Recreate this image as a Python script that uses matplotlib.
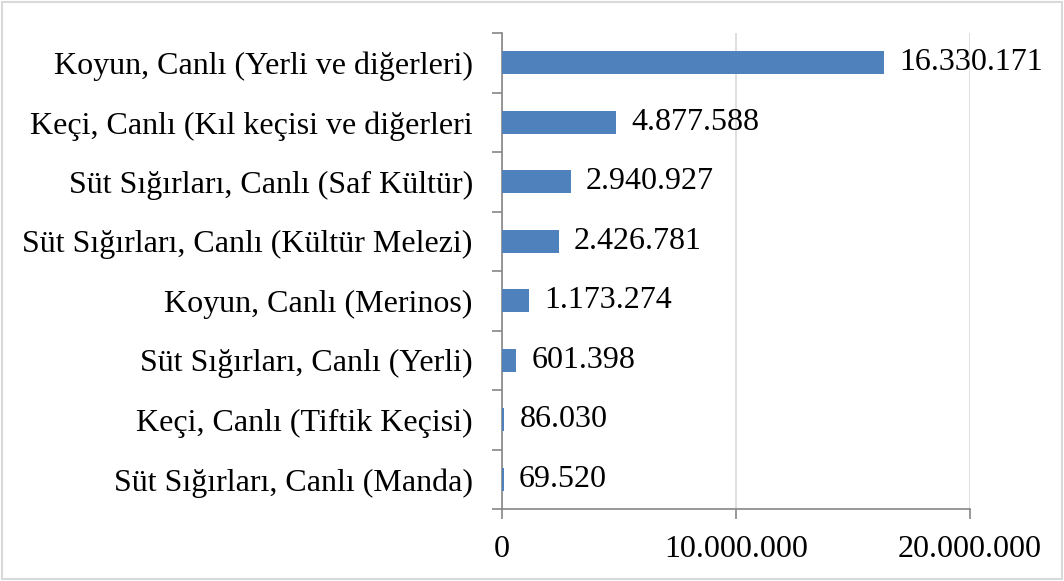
import matplotlib
matplotlib.use("Agg")
import matplotlib.pyplot as plt
from matplotlib.patches import Rectangle
from matplotlib.ticker import FuncFormatter, FixedLocator

# data (top to bottom as in the chart)
labels = ["Koyun, Canlı (Yerli ve diğerleri)",
          "Keçi, Canlı (Kıl keçisi ve diğerleri",
          "Süt Sığırları, Canlı (Saf Kültür)",
          "Süt Sığırları, Canlı (Kültür Melezi)",
          "Koyun, Canlı (Merinos)",
          "Süt Sığırları, Canlı (Yerli)",
          "Keçi, Canlı (Tiftik Keçisi)",
          "Süt Sığırları, Canlı (Manda)"]
values = [16330171, 4877588, 2940927, 2426781, 1173274, 601398, 86030, 69520]
xticks = [0, 10000000, 20000000]

plt.rcParams['font.family'] = ['Liberation Serif', 'DejaVu Serif']
FS = 23


def dotted(v, pos=None):
    return f"{int(v):,}".replace(",", ".")


fig = plt.figure(figsize=(10.64, 5.81), dpi=100)
ax = fig.add_axes([0.4718, 0.1239, 0.4399, 0.8193])

n = len(values)
ypos = list(range(n))[::-1]
ax.barh(ypos, values, height=0.38, color="#4f81bd", zorder=3)

for y, v in zip(ypos, values):
    ax.annotate(dotted(v), (v, y), xytext=(11, 0), textcoords="offset points",
                va="center", ha="left", fontsize=FS, zorder=4)

ax.set_xlim(0, 20000000)
ax.set_ylim(-0.5, n - 0.5)
ax.set_xticks(xticks)
ax.xaxis.set_major_formatter(FuncFormatter(dotted))
ax.set_yticks(ypos)
ax.set_yticklabels(labels)
ax.yaxis.set_minor_locator(FixedLocator([i - 0.5 for i in range(n + 1)]))

ax.tick_params(axis="y", which="major", length=0, pad=21, labelsize=FS)
ax.tick_params(axis="y", which="minor", length=7, color="#868686", width=1.2)
ax.tick_params(axis="x", which="major", length=7, color="#868686", width=1.2,
               pad=12, labelsize=FS)

ax.grid(axis="x", color="#d9d9d9", linewidth=1.2, zorder=0)
for s in ["top", "right"]:
    ax.spines[s].set_visible(False)
ax.spines["left"].set_color("#868686")
ax.spines["bottom"].set_color("#868686")
ax.spines["left"].set_linewidth(1.2)
ax.spines["bottom"].set_linewidth(1.2)

fig.patches.append(Rectangle((0.002, 0.003), 0.996, 0.994, transform=fig.transFigure,
                             fill=False, edgecolor="#d9d9d9", linewidth=1.5))

fig.savefig("out.png", dpi=100)
